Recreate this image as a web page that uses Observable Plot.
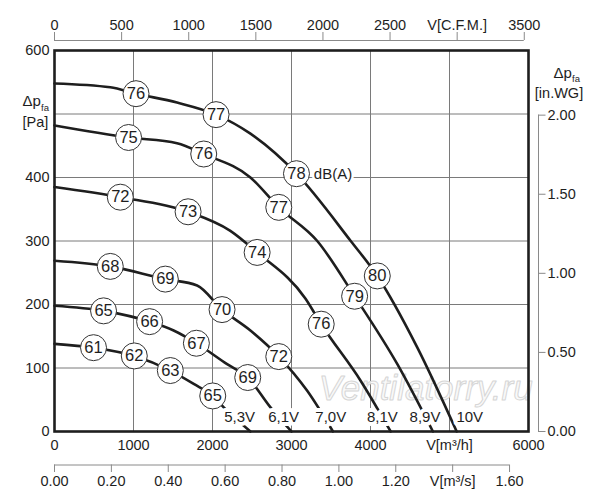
<!DOCTYPE html>
<html><head><meta charset="utf-8">
<script src="https://cdn.jsdelivr.net/npm/d3@7"></script>
<script src="https://cdn.jsdelivr.net/npm/@observablehq/plot@0.6"></script>
<style>body{margin:0;background:#fff}</style>
</head><body><div id="chart"></div>
<script>
// ---- tick values & labels ----
const flowTicks = [0, 1000, 2000, 3000, 4000, 5000, 6000];
const flowLabels = ["0", "1000", "2000", "3000", "4000", "V[m³/h]", "6000"];
const paTicks = [0, 100, 200, 300, 400, 600];
const gridX = [1000, 2000, 3000, 4000, 5000];
const gridY = [100, 200, 300, 400, 500];
const cfmTicks = [0, 500, 1000, 1500, 2000, 2500, 3000, 3500];
const cfmLabels = ["0", "500", "1000", "1500", "2000", "2500", "V[C.F.M.]", "3500"];
const m3sTicks = [0, 0.2, 0.4, 0.6, 0.8, 1.0, 1.2, 1.4, 1.6];
const m3sLabels = ["0.00", "0.20", "0.40", "0.60", "0.80", "1.00", "1.20", "V[m³/s]", "1.60"];
const inwgTicks = [0, 0.5, 1, 1.5, 2];
const inwgLabels = ["0.00", "0.50", "1.00", "1.50", "2.00"];

// ---- curves (flow m³/h, pressure Pa) ----
const voltages = ["5,3V", "6,1V", "7,0V", "8,1V", "8,9V", "10V"];
const curve53 = [[0,138],[494,132],[1010,119],[1466,96],[1762,75],[2003,56],[2142,38],[2480,0]];
const curve61 = [[0,198],[621,190],[1204,173],[1508,159],[1796,139],[2185,106],[2446,85],[2734,38],[3000,0]];
const curve70 = [[0,269],[706,260],[1403,240],[1805,230],[2121,192],[2480,159],[2839,118],[3199,64],[3525,0]];
const curve81 = [[0,385],[833,369],[1691,346],[2226,316],[2565,282],[3178,209],[3376,169],[3875,80],[4255,0]];
const curve89 = [[0,482],[938,463],[1551,454],[1889,437],[2480,400],[2839,353],[3326,300],[3799,213],[4340,106],[4790,0]];
const curve10 = [[0,548],[706,542],[1032,532],[1551,518],[2045,499],[2480,469],[3063,406],[3750,300],[4086,245],[4590,133],[5091,0]];
const curves = [curve53, curve61, curve70, curve81, curve89, curve10];

// ---- sound level markers dB(A): flow, pressure, value ----
const db53 = [[494,132,61],[1010,119,62],[1466,96,63],[2003,56,65]];
const db61 = [[621,190,65],[1204,173,66],[1796,139,67],[2446,85,69]];
const db70 = [[706,260,68],[1403,240,69],[2121,192,70],[2839,118,72]];
const db81 = [[833,369,72],[1691,346,73],[2565,282,74],[3376,169,76]];
const db89 = [[938,463,75],[1889,437,76],[2839,353,77],[3799,213,79]];
const db10 = [[1032,532,76],[2045,499,77],[3063,406,78],[4086,245,80]];
const dbSets = [db53, db61, db70, db81, db89, db10];

const voltLabelX = [2343, 2900, 3497, 4150, 4690, 5256];
const voltLabelP = 22;

// unit conversions
const CFM = 1.699, M3S = 3600, INWG = 249.09;

// ---- layout ----
const W = 600, H = 500, mL = 54, mR = 72, mT = 50, mB = 69;
const pxV = (W - mL - mR) / 6000, pxP = (H - mT - mB) / 600;

const lineData = curves.flatMap((c, i) => c.map(([v, p]) => ({v, p, volt: voltages[i]})));
const dbData = dbSets.flatMap(s => s.map(([v, p, d]) => ({v, p, d})));

const ink = "#1e1e1e", axisGray = "#8a8a8a", font = "Liberation Sans, Arial, sans-serif";

const chart = Plot.plot({
  width: W, height: H,
  marginLeft: mL, marginRight: mR, marginTop: mT, marginBottom: mB,
  style: {fontFamily: font, background: "white", overflow: "visible"},
  x: {domain: [0, 6000], axis: null},
  y: {domain: [0, 600], axis: null},
  marks: [
    Plot.ruleX(gridX, {stroke: "#7a7a7a", strokeWidth: 1}),
    Plot.ruleY(gridY, {stroke: "#7a7a7a", strokeWidth: 1}),
    Plot.text(["Ventilatorry.ru"], {x: 4698, y: 67, text: d => d, fontSize: 35, fontStyle: "italic",
      fill: "#f9f9f9", fillOpacity: 0.85, stroke: "#d6d6d6", strokeWidth: 1, paintOrder: "normal", fontFamily: font}),
    Plot.line(lineData, {x: "v", y: "p", z: "volt", stroke: ink, strokeWidth: 2.6, curve: "monotone-x"}),
    Plot.text(voltages, {x: (d, i) => voltLabelX[i], y: voltLabelP, text: d => d, fontSize: 15,
      fill: ink, stroke: "white", strokeWidth: 8, strokeLinejoin: "round", fontFamily: font}),
    Plot.frame({stroke: ink, strokeWidth: 2.6}),
    Plot.dot(dbData, {x: "v", y: "p", r: 13, fill: "white", stroke: "#333", strokeWidth: 1}),
    Plot.text(dbData, {x: "v", y: "p", text: d => String(d.d), fontSize: 16.5, fill: ink, fontFamily: font}),
    Plot.text(["dB(A)"], {x: 3283, y: 406, text: d => d, textAnchor: "start", fontSize: 15,
      fill: ink, stroke: "white", strokeWidth: 5, strokeLinejoin: "round", fontFamily: font}),
    // bottom m³/h labels
    Plot.text(flowTicks, {x: d => d, y: 0, dy: 13.5, text: (d, i) => flowLabels[i], fontSize: 14.5, fill: ink, fontFamily: font}),
    // left Pa labels
    Plot.text(paTicks, {x: 0, y: d => d, dx: -5, textAnchor: "end", text: d => String(d), fontSize: 14.5, fill: ink, fontFamily: font}),
    Plot.text(["Δp"], {x: 0, y: 600, dx: -32, dy: 51, text: d => d, textAnchor: "start", fontSize: 15, fill: ink, fontFamily: font}),
    Plot.text(["fa"], {x: 0, y: 600, dx: -13.5, dy: 57, text: d => d, textAnchor: "start", fontSize: 9.5, fill: ink, fontFamily: font}),
    Plot.text(["[Pa]"], {x: 0, y: 600, dx: -32, dy: 72, text: d => d, textAnchor: "start", fontSize: 14.5, fill: ink, fontFamily: font}),
    // top CFM axis
    Plot.ruleY([600], {x1: 0, x2: cfmTicks[cfmTicks.length - 1] * CFM, dy: -10, stroke: axisGray, strokeWidth: 1}),
    Plot.ruleX(cfmTicks, {x: d => d * CFM, y1: 600, y2: 600 + 8 / pxP, dy: -10, stroke: axisGray, strokeWidth: 1}),
    Plot.text(cfmTicks, {x: d => d * CFM, y: 600, dy: -25, text: (d, i) => cfmLabels[i], fontSize: 14.5, fill: ink, fontFamily: font}),
    // bottom m³/s axis
    Plot.ruleY([0], {x1: 0, x2: m3sTicks[m3sTicks.length - 1] * M3S, dy: 33.5, stroke: axisGray, strokeWidth: 1}),
    Plot.ruleX(m3sTicks, {x: d => d * M3S, y1: 0, y2: -7.5 / pxP, dy: 33.5, stroke: axisGray, strokeWidth: 1}),
    Plot.text(m3sTicks, {x: d => d * M3S, y: 0, dy: 50, text: (d, i) => m3sLabels[i], fontSize: 14.5, fill: ink, fontFamily: font}),
    // right in.WG axis
    Plot.ruleX([6000], {y1: 0, y2: inwgTicks[inwgTicks.length - 1] * INWG, dx: 10, stroke: axisGray, strokeWidth: 1}),
    Plot.ruleY(inwgTicks, {y: d => d * INWG, x1: 6000, x2: 6000 + 7.5 / pxV, dx: 10, stroke: axisGray, strokeWidth: 1}),
    Plot.text(inwgTicks, {x: 6000, y: d => d * INWG, dx: 19, textAnchor: "start", text: (d, i) => inwgLabels[i], fontSize: 14.5, fill: ink, fontFamily: font}),
    Plot.text(["Δp"], {x: 6000, y: 600, dx: 25, dy: 22.5, text: d => d, textAnchor: "start", fontSize: 15, fill: ink, fontFamily: font}),
    Plot.text(["fa"], {x: 6000, y: 600, dx: 43.5, dy: 28, text: d => d, textAnchor: "start", fontSize: 9.5, fill: ink, fontFamily: font}),
    Plot.text(["[in.WG]"], {x: 6000, y: 600, dx: 30.5, dy: 42.5, text: d => d, textAnchor: "middle", fontSize: 14.5, fill: ink, fontFamily: font})
  ]
});
document.getElementById("chart").appendChild(chart);
</script>
</body></html>
